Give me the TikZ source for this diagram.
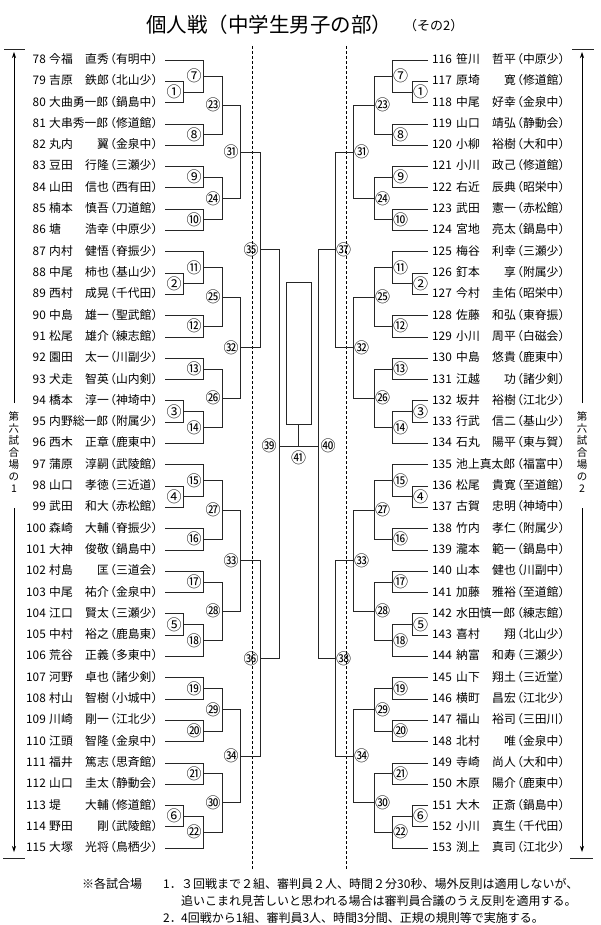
\documentclass[tikz,border=0pt]{standalone}
\usepackage{fontspec}
\setmainfont{Noto Sans CJK JP}
\newfontfamily\hf{Noto Sans CJK JP}[RawFeature=+halt]
\usetikzlibrary{calc,arrows.meta}
\newcommand\sch[1]{{\hf （#1）}}
\newcommand\yy[1]{60+21.3*#1}
% left players
\newcommand\pL[5]{%
 \node[txt,anchor=east] (nL#1) at (46,{\yy{#2}}) {#1};
 \node[txt,anchor=west] (fL#1) at (49,{\yy{#2}}) {#3};
 \node[txt,anchor=east] (gL#1) at (109,{\yy{#2}}) {#4};
 \node[txt,anchor=west] (sL#1) at (110,{\yy{#2}}) {\sch{#5}};
 \coordinate (L#1) at (165,{\yy{#2}});}
\newcommand\pLf[4]{%
 \node[txt,anchor=east] (nL#1) at (46,{\yy{#2}}) {#1};
 \node[txt,anchor=west] (fL#1) at (49,{\yy{#2}}) {#3};
 \node[txt,anchor=west] (sL#1) at (110,{\yy{#2}}) {\sch{#4}};
 \coordinate (L#1) at (165,{\yy{#2}});}
% right players
\newcommand\pR[5]{%
 \node[txt,anchor=east] (nR#1) at (452,{\yy{#2}}) {#1};
 \node[txt,anchor=west] (fR#1) at (456,{\yy{#2}}) {#3};
 \node[txt,anchor=east] (gR#1) at (516,{\yy{#2}}) {#4};
 \node[txt,anchor=west] (sR#1) at (517,{\yy{#2}}) {\sch{#5}};
 \coordinate (R#1) at (428,{\yy{#2}});}
\newcommand\pRf[4]{%
 \node[txt,anchor=east] (nR#1) at (452,{\yy{#2}}) {#1};
 \node[txt,anchor=west] (fR#1) at (456,{\yy{#2}}) {#3};
 \node[txt,anchor=west] (sR#1) at (517,{\yy{#2}}) {\sch{#4}};
 \coordinate (R#1) at (428,{\yy{#2}});}
% matches
\newcommand\mL[5]{%
 \draw[br] (#2) -- (#2 -| #4) -- (#3 -| #4) -- (#3);
 \coordinate (#1) at ($(#2 -| #4)!0.5!(#3 -| #4)$);
 \node[lab] (#1t) at ($(#1)+(-9,0)$) {#5};}
\newcommand\mR[5]{%
 \draw[br] (#2) -- (#2 -| #4) -- (#3 -| #4) -- (#3);
 \coordinate (#1) at ($(#2 -| #4)!0.5!(#3 -| #4)$);
 \node[lab] (#1t) at ($(#1)+(8.5,0)$) {#5};}
\begin{document}
\begin{tikzpicture}[x=1pt,y=-1pt,
 txt/.style={inner sep=0pt,font=\fontsize{11.8}{12}\selectfont,text height=9pt,text depth=2pt},
 lab/.style={inner sep=0pt,font=\fontsize{15}{15}\selectfont},
 br/.style={line width=0.7pt,black!85},
 dsh/.style={line width=0.8pt,dash pattern=on 3pt off 2pt},
 arr/.style={line width=0.7pt,-{Stealth[length=6pt,width=4pt]}},
 vt/.style={inner sep=0pt,align=center,font=\fontsize{10.5}{12.1}\selectfont},
 nt/.style={inner sep=0pt,font=\fontsize{12}{12}\selectfont,anchor=west}]
\useasboundingbox[fill=white] (0,0) rectangle (600,925);

% title
\node[anchor=west,inner sep=0pt,font=\fontsize{20.5}{21}\selectfont] (title) at (146,25) {個人戦（中学生男子の部）};
\node[anchor=west,inner sep=0pt,font=\fontsize{13}{13}\selectfont] (sub) at (404,26) {（その2）};

% columns
\coordinate (a1) at (183,0); \coordinate (a2) at (203,0); \coordinate (a3) at (222,0);
\coordinate (a4) at (240,0); \coordinate (a5) at (260,0); \coordinate (a6) at (279,0);
\coordinate (b1) at (412,0); \coordinate (b2) at (392,0); \coordinate (b3) at (374,0);
\coordinate (b4) at (353,0); \coordinate (b5) at (335,0); \coordinate (b6) at (318,0);

% dashed guides
\coordinate (d1) at (252,46); \coordinate (d2) at (252,870);
\coordinate (d3) at (346,46); \coordinate (d4) at (346,870);
\draw[dsh] (d1) -- (d2);
\draw[dsh] (d3) -- (d4);

% left players
\pL{78}{0}{今福}{直秀}{有明中}
\pL{79}{1}{吉原}{鉄郎}{北山少}
\pLf{80}{2}{大曲勇一郎}{鍋島中}
\pLf{81}{3}{大串秀一郎}{修道館}
\pL{82}{4}{丸内}{翼}{金泉中}
\pL{83}{5}{豆田}{行隆}{三瀬少}
\pL{84}{6}{山田}{信也}{西有田}
\pL{85}{7}{楠本}{慎吾}{刀道館}
\pL{86}{8}{塘}{浩幸}{中原少}
\pL{87}{9}{内村}{健悟}{脊振少}
\pL{88}{10}{中尾}{柿也}{基山少}
\pL{89}{11}{西村}{成晃}{千代田}
\pL{90}{12}{中島}{雄一}{聖武館}
\pL{91}{13}{松尾}{雄介}{練志館}
\pL{92}{14}{園田}{太一}{川副少}
\pL{93}{15}{犬走}{智英}{山内剣}
\pL{94}{16}{橋本}{淳一}{神埼中}
\pLf{95}{17}{内野総一郎}{附属少}
\pL{96}{18}{西木}{正章}{鹿東中}
\pL{97}{19}{蒲原}{淳嗣}{武陵館}
\pL{98}{20}{山口}{孝徳}{三近道}
\pL{99}{21}{武田}{和大}{赤松館}
\pL{100}{22}{森崎}{大輔}{脊振少}
\pL{101}{23}{大神}{俊敬}{鍋島中}
\pL{102}{24}{村島}{匡}{三道会}
\pL{103}{25}{中尾}{祐介}{金泉中}
\pL{104}{26}{江口}{賢太}{三瀬少}
\pL{105}{27}{中村}{裕之}{鹿島東}
\pL{106}{28}{荒谷}{正義}{多東中}
\pL{107}{29}{河野}{卓也}{諸少剣}
\pL{108}{30}{村山}{智樹}{小城中}
\pL{109}{31}{川崎}{剛一}{江北少}
\pL{110}{32}{江頭}{智隆}{金泉中}
\pL{111}{33}{福井}{篤志}{思斉館}
\pL{112}{34}{山口}{圭太}{静動会}
\pL{113}{35}{堤}{大輔}{修道館}
\pL{114}{36}{野田}{剛}{武陵館}
\pL{115}{37}{大塚}{光将}{鳥栖少}

% right players
\pR{116}{0}{笹川}{哲平}{中原少}
\pR{117}{1}{原埼}{寛}{修道館}
\pR{118}{2}{中尾}{好幸}{金泉中}
\pR{119}{3}{山口}{靖弘}{静動会}
\pR{120}{4}{小柳}{裕樹}{大和中}
\pR{121}{5}{小川}{政己}{修道館}
\pR{122}{6}{右近}{辰典}{昭栄中}
\pR{123}{7}{武田}{憲一}{赤松館}
\pR{124}{8}{宮地}{亮太}{鍋島中}
\pR{125}{9}{梅谷}{利幸}{三瀬少}
\pR{126}{10}{釘本}{享}{附属少}
\pR{127}{11}{今村}{圭佑}{昭栄中}
\pR{128}{12}{佐藤}{和弘}{東脊振}
\pR{129}{13}{小川}{周平}{白磁会}
\pR{130}{14}{中島}{悠貴}{鹿東中}
\pR{131}{15}{江越}{功}{諸少剣}
\pR{132}{16}{坂井}{裕樹}{江北少}
\pR{133}{17}{行武}{信二}{基山少}
\pR{134}{18}{石丸}{陽平}{東与賀}
\pRf{135}{19}{池上真太郎}{福富中}
\pR{136}{20}{松尾}{貴寛}{至道館}
\pR{137}{21}{古賀}{忠明}{神埼中}
\pR{138}{22}{竹内}{孝仁}{附属少}
\pR{139}{23}{瀧本}{範一}{鍋島中}
\pR{140}{24}{山本}{健也}{川副中}
\pR{141}{25}{加藤}{雅裕}{至道館}
\pRf{142}{26}{水田慎一郎}{練志館}
\pR{143}{27}{喜村}{翔}{北山少}
\pR{144}{28}{納富}{和寿}{三瀬少}
\pR{145}{29}{山下}{翔土}{三近堂}
\pR{146}{30}{横町}{昌宏}{江北少}
\pR{147}{31}{福山}{裕司}{三田川}
\pR{148}{32}{北村}{唯}{金泉中}
\pR{149}{33}{寺崎}{尚人}{大和中}
\pR{150}{34}{木原}{陽介}{鹿東中}
\pR{151}{35}{大木}{正斎}{鍋島中}
\pR{152}{36}{小川}{真生}{千代田}
\pR{153}{37}{渕上}{真司}{江北少}

% left bracket
\mL{Lm1}{L79}{L80}{a1}{①}
\mL{Lm7}{L78}{Lm1}{a2}{⑦}
\mL{Lm8}{L81}{L82}{a2}{⑧}
\mL{Lm23}{Lm7}{Lm8}{a3}{㉓}
\mL{Lm9}{L83}{L84}{a2}{⑨}
\mL{Lm10}{L85}{L86}{a2}{⑩}
\mL{Lm24}{Lm9}{Lm10}{a3}{㉔}
\mL{Lm31}{Lm23}{Lm24}{a4}{㉛}
\mL{Lm2}{L88}{L89}{a1}{②}
\mL{Lm11}{L87}{Lm2}{a2}{⑪}
\mL{Lm12}{L90}{L91}{a2}{⑫}
\mL{Lm25}{Lm11}{Lm12}{a3}{㉕}
\mL{Lm13}{L92}{L93}{a2}{⑬}
\mL{Lm3}{L94}{L95}{a1}{③}
\mL{Lm14}{Lm3}{L96}{a2}{⑭}
\mL{Lm26}{Lm13}{Lm14}{a3}{㉖}
\mL{Lm32}{Lm25}{Lm26}{a4}{㉜}
\mL{Lm35}{Lm31}{Lm32}{a5}{㉟}
\mL{Lm4}{L98}{L99}{a1}{④}
\mL{Lm15}{L97}{Lm4}{a2}{⑮}
\mL{Lm16}{L100}{L101}{a2}{⑯}
\mL{Lm27}{Lm15}{Lm16}{a3}{㉗}
\mL{Lm17}{L102}{L103}{a2}{⑰}
\mL{Lm5}{L104}{L105}{a1}{⑤}
\mL{Lm18}{Lm5}{L106}{a2}{⑱}
\mL{Lm28}{Lm17}{Lm18}{a3}{㉘}
\mL{Lm33}{Lm27}{Lm28}{a4}{㉝}
\mL{Lm19}{L107}{L108}{a2}{⑲}
\mL{Lm20}{L109}{L110}{a2}{⑳}
\mL{Lm29}{Lm19}{Lm20}{a3}{㉙}
\mL{Lm21}{L111}{L112}{a2}{㉑}
\mL{Lm6}{L113}{L114}{a1}{⑥}
\mL{Lm22}{Lm6}{L115}{a2}{㉒}
\mL{Lm30}{Lm21}{Lm22}{a3}{㉚}
\mL{Lm34}{Lm29}{Lm30}{a4}{㉞}
\mL{Lm36}{Lm33}{Lm34}{a5}{㊱}

% right bracket
\mR{Rm1}{R117}{R118}{b1}{①}
\mR{Rm7}{R116}{Rm1}{b2}{⑦}
\mR{Rm8}{R119}{R120}{b2}{⑧}
\mR{Rm23}{Rm7}{Rm8}{b3}{㉓}
\mR{Rm9}{R121}{R122}{b2}{⑨}
\mR{Rm10}{R123}{R124}{b2}{⑩}
\mR{Rm24}{Rm9}{Rm10}{b3}{㉔}
\mR{Rm31}{Rm23}{Rm24}{b4}{㉛}
\mR{Rm2}{R126}{R127}{b1}{②}
\mR{Rm11}{R125}{Rm2}{b2}{⑪}
\mR{Rm12}{R128}{R129}{b2}{⑫}
\mR{Rm25}{Rm11}{Rm12}{b3}{㉕}
\mR{Rm13}{R130}{R131}{b2}{⑬}
\mR{Rm3}{R132}{R133}{b1}{③}
\mR{Rm14}{Rm3}{R134}{b2}{⑭}
\mR{Rm26}{Rm13}{Rm14}{b3}{㉖}
\mR{Rm32}{Rm25}{Rm26}{b4}{㉜}
\mR{Rm37}{Rm31}{Rm32}{b5}{㊲}
\mR{Rm4}{R136}{R137}{b1}{④}
\mR{Rm15}{R135}{Rm4}{b2}{⑮}
\mR{Rm16}{R138}{R139}{b2}{⑯}
\mR{Rm27}{Rm15}{Rm16}{b3}{㉗}
\mR{Rm17}{R140}{R141}{b2}{⑰}
\mR{Rm5}{R142}{R143}{b1}{⑤}
\mR{Rm18}{Rm5}{R144}{b2}{⑱}
\mR{Rm28}{Rm17}{Rm18}{b3}{㉘}
\mR{Rm33}{Rm27}{Rm28}{b4}{㉝}
\mR{Rm19}{R145}{R146}{b2}{⑲}
\mR{Rm20}{R147}{R148}{b2}{⑳}
\mR{Rm29}{Rm19}{Rm20}{b3}{㉙}
\mR{Rm21}{R149}{R150}{b2}{㉑}
\mR{Rm6}{R151}{R152}{b1}{⑥}
\mR{Rm22}{Rm6}{R153}{b2}{㉒}
\mR{Rm30}{Rm21}{Rm22}{b3}{㉚}
\mR{Rm34}{Rm29}{Rm30}{b4}{㉞}
\mR{Rm38}{Rm33}{Rm34}{b5}{㊳}

% final
\coordinate (F) at (298.5,446);
\draw[br] (Lm35) -- (Lm35 -| a6) -- (Lm36 -| a6) -- (Lm36);
\draw[br] (Rm37) -- (Rm37 -| b6) -- (Rm38 -| b6) -- (Rm38);
\draw[br] (F -| a6) -- (F -| b6);
\node[lab] (Lm39t) at ($(F -| a6)+(-10,0)$) {㊴};
\node[lab] (Rm40t) at ($(F -| b6)+(10,0)$) {㊵};
\node[draw,line width=0.7pt,black!85,inner sep=0pt,minimum width=25pt,minimum height=142pt] (box) at (298.5,353) {};
\draw[br] (F) -- (box.south);
\node[lab] (F41t) at (298.5,458) {㊶};

% side arrows
\node[vt] (vtL) at (14,452) {第\\六\\試\\合\\場\\の\\1};
\node[vt] (vtR) at (582,452) {第\\六\\試\\合\\場\\の\\2};
\coordinate (lA) at (14,403); \coordinate (lB) at (14,52);
\coordinate (lC) at (14,508); \coordinate (lD) at (14,852);
\coordinate (rA) at (582,403); \coordinate (rB) at (582,52);
\coordinate (rC) at (582,508); \coordinate (rD) at (582,852);
\draw[arr] (lA) -- (lB);
\draw[arr] (lC) -- (lD);
\draw[arr] (rA) -- (rB);
\draw[arr] (rC) -- (rD);
\draw[br] (4,49) -- (25,49);
\draw[br] (3,858) -- (25,858);
\draw[br] (572,49) -- (594,49);
\draw[br] (570,858) -- (593,858);

% notes
\node[nt] (n0) at (82,884) {※各試合場};
\node[nt] (n1a) at (163,884) {1．};
\node[nt] (n1) at (181,884) {３回戦まで２組、審判員２人、時間２分30秒、場外反則は適用しないが、};
\node[nt] (n2) at (181,901) {追いこまれ見苦しいと思われる場合は審判員合議のうえ反則を適用する。};
\node[nt] (n3a) at (163,918) {2．};
\node[nt] (n3) at (181,918) {4回戦から1組、審判員3人、時間3分間、正規の規則等で実施する。};
\end{tikzpicture}
\end{document}
